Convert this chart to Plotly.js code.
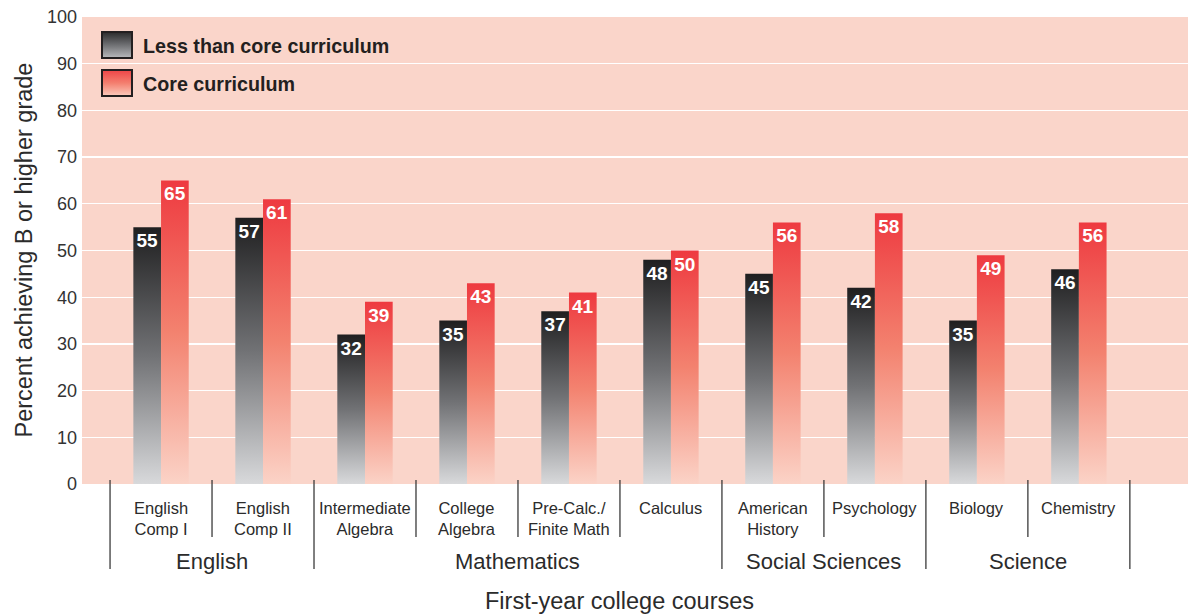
<!DOCTYPE html>
<html><head><meta charset="utf-8">
<script src="https://cdn.plot.ly/plotly-3.0.1.min.js"></script>
<style>html,body{margin:0;padding:0;background:#fff;} #chart{width:1188px;height:616px;}</style>
</head><body>
<svg width="0" height="0" style="position:absolute">
 <defs>
  <linearGradient id="gradDark" x1="0" y1="0" x2="0" y2="1">
   <stop offset="0" stop-color="#1f1f20"/><stop offset="0.5" stop-color="#717275"/><stop offset="1" stop-color="#d8d9db"/>
  </linearGradient>
  <linearGradient id="gradRed" x1="0" y1="0" x2="0" y2="1">
   <stop offset="0" stop-color="#ee3a40"/><stop offset="0.5" stop-color="#f3826f"/><stop offset="1" stop-color="#fbd3c7"/>
  </linearGradient>
 </defs>
</svg>
<div id="chart"></div>
<script>
const courses = ["English<br>Comp I", "English<br>Comp II", "Intermediate<br>Algebra", "College<br>Algebra", "Pre-Calc./<br>Finite Math", "Calculus", "American<br>History", "Psychology", "Biology", "Chemistry"];
const lessThanCore = [55, 57, 32, 35, 37, 48, 45, 42, 35, 46];
const coreCurriculum = [65, 61, 39, 43, 41, 50, 56, 58, 49, 56];
const groups = ["English", "Mathematics", "Social Sciences", "Science"];
const groupSizes = [2, 4, 2, 2];
const seriesNames = ["Less than core curriculum", "Core curriculum"];
const yTicks = [0, 10, 20, 30, 40, 50, 60, 70, 80, 90, 100];
const yTitle = "Percent achieving B or higher grade";
const xTitle = "First-year college courses";

const FONT = "Liberation Sans, Arial, Helvetica, sans-serif";
const TXT = "#2b2b2b";
const W = 1188, H = 616;
const M = {l: 82, r: 0, t: 17, b: 132};
const plotW = W - M.l - M.r, plotH = H - M.t - M.b;
const xr = [-0.775, 10.07];
const px2paperY = py => (H - M.b - py) / plotH;
const cat2paperX = c => (c - xr[0]) / (xr[1] - xr[0]);

const barText = {color: "#ffffff", size: 19, family: FONT, weight: "bold"};
const traces = [
  {type: "bar", name: seriesNames[0], x: courses, y: lessThanCore, text: lessThanCore.map(String),
   marker: {color: "#555", line: {width: 0}}, textposition: "inside", insidetextanchor: "end",
   constraintext: "none", textfont: barText, hoverinfo: "x+y+name"},
  {type: "bar", name: seriesNames[1], x: courses, y: coreCurriculum, text: coreCurriculum.map(String),
   marker: {color: "#ee5a50", line: {width: 0}}, textposition: "inside", insidetextanchor: "end",
   constraintext: "none", textfont: barText, hoverinfo: "x+y+name"}
];

const annotations = [];
const shapes = [];
// course labels
courses.forEach((c, i) => {
  annotations.push({xref: "x", yref: "paper", x: i, y: 0, yshift: -13, yanchor: "top",
    xanchor: "center", align: "center", showarrow: false, text: c, font: {family: FONT, size: 16.5, color: TXT}});
});
// group labels and divider lines
let start = 0;
const longB = [-0.5];
groups.forEach((g, gi) => {
  const n = groupSizes[gi];
  annotations.push({xref: "x", yref: "paper", x: start + (n - 1) / 2, y: 0, yshift: -77, yanchor: "middle",
    xanchor: "center", showarrow: false, text: g, font: {family: FONT, size: 22, color: TXT}});
  start += n;
  longB.push(start - 0.5);
});
for (let b = -0.5; b <= courses.length - 0.5; b += 1) {
  const isLong = longB.some(v => Math.abs(v - b) < 1e-6);
  shapes.push({type: "line", xref: "paper", yref: "paper", x0: cat2paperX(b), x1: cat2paperX(b),
    y0: px2paperY(480), y1: px2paperY(isLong ? 569 : 537), line: {color: "#3a3a3a", width: 1.3}, layer: "above"});
}
// axis titles
annotations.push({xref: "x", yref: "paper", x: (courses.length - 1) / 2, y: 0, yshift: -117, yanchor: "middle",
  xanchor: "center", showarrow: false, text: xTitle, font: {family: FONT, size: 23.5, color: TXT}});
annotations.push({xref: "paper", yref: "paper", x: 0, xshift: -59, y: 0.5, textangle: -90, xanchor: "center",
  yanchor: "middle", showarrow: false, text: yTitle, font: {family: FONT, size: 23.5, color: TXT}});

// custom legend
function legendSvg(c0, c1, c2) {
  const s = '<svg xmlns="http://www.w3.org/2000/svg" width="32" height="28" viewBox="0 0 32 28" preserveAspectRatio="none">' +
    '<defs><linearGradient id="a" x1="0" y1="0" x2="0" y2="1"><stop offset="0" stop-color="' + c0 + '"/>' +
    '<stop offset="0.5" stop-color="' + c1 + '"/><stop offset="1" stop-color="' + c2 + '"/></linearGradient></defs>' +
    '<rect x="1" y="1" width="30" height="26" fill="url(#a)" stroke="#231f20" stroke-width="2"/></svg>';
  return "data:image/svg+xml;charset=utf-8," + encodeURIComponent(s);
}
const legendColors = [["#2a2a2b", "#6f7073", "#b9babd"], ["#ef4447", "#f47f6f", "#fbcbbd"]];
const images = [];
seriesNames.forEach((nm, i) => {
  const topPx = 31 + 38 * i;
  images.push({source: legendSvg(...legendColors[i]), xref: "paper", yref: "paper",
    x: (101 - M.l) / plotW, y: px2paperY(topPx), sizex: 32 / plotW, sizey: 28 / plotH,
    xanchor: "left", yanchor: "top", sizing: "stretch", layer: "above"});
  annotations.push({xref: "paper", yref: "paper", x: (141 - M.l) / plotW, y: px2paperY(topPx + 15),
    xanchor: "left", yanchor: "middle", showarrow: false, text: "<b>" + nm + "</b>",
    font: {family: FONT, size: 19.7, color: "#231f20"}});
});

const layout = {
  width: W, height: H, margin: M,
  paper_bgcolor: "#ffffff", plot_bgcolor: "#fad5ca",
  barmode: "group", bargap: 0.457, bargroupgap: 0,
  showlegend: false,
  xaxis: {type: "category", range: xr, showticklabels: false, ticks: "", showgrid: false,
    zeroline: false, showline: false, fixedrange: true},
  yaxis: {range: [0, 100], tickvals: yTicks, ticks: "", showgrid: true, gridcolor: "#ffffff", gridwidth: 1.3,
    zeroline: false, showline: false, ticklabelstandoff: 4,
    tickfont: {family: FONT, size: 18, color: "#333"}, fixedrange: true},
  annotations: annotations, shapes: shapes, images: images,
  font: {family: FONT, color: TXT}
};

Plotly.newPlot("chart", traces, layout, {displayModeBar: false, staticPlot: true}).then(gd => {
  const ids = ["gradDark", "gradRed"];
  gd.querySelectorAll(".barlayer .trace.bars").forEach((t, i) => {
    t.querySelectorAll(".point path").forEach(p => { p.style.fill = "url(#" + ids[i] + ")"; });
  });
});
</script>
</body></html>
